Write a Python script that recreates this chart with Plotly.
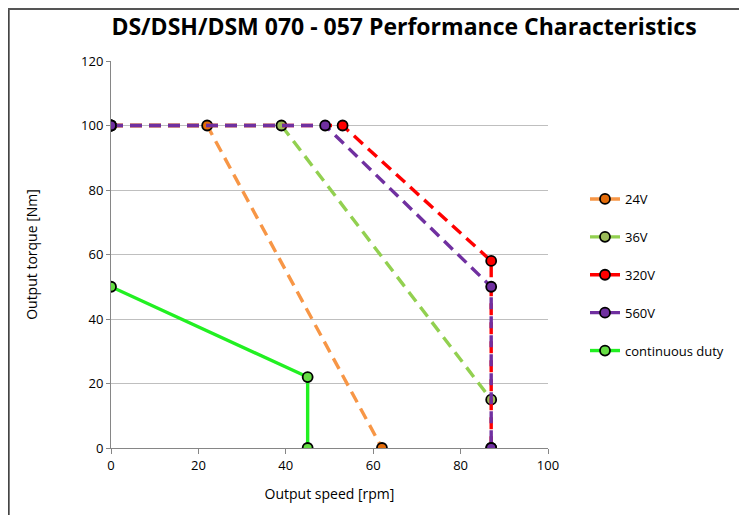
import plotly.graph_objects as go

title = "DS/DSH/DSM 070 - 057 Performance Characteristics"

names = ["24V", "36V", "320V", "560V", "continuous duty"]
speed_24 = [0, 22, 62]
torque_24 = [100, 100, 0]
speed_36 = [0, 39, 87]
torque_36 = [100, 100, 15]
speed_320 = [0, 53, 87, 87]
torque_320 = [100, 100, 58, 0]
speed_560 = [0, 49, 87, 87]
torque_560 = [100, 100, 50, 0]
speed_cont = [0, 45, 45]
torque_cont = [50, 22, 0]

xs = [speed_24, speed_36, speed_320, speed_560, speed_cont]
ys = [torque_24, torque_36, torque_320, torque_560, torque_cont]
line_colors = ["#F79646", "#92D050", "#FF0000", "#7030A0", "#22F022"]
fill_colors = ["#E46C0A", "#9BBB59", "#FF0000", "#7030A0", "#66DD44"]
dashes = ["12px,7px", "12px,7px", "12px,7px", "12px,7px", "solid"]

fig = go.Figure()
for i in range(5):
    fig.add_trace(go.Scatter(
        x=xs[i], y=ys[i], name=names[i], mode="lines+markers",
        legendgroup=names[i],
        line=dict(color=line_colors[i], width=3.4, dash=dashes[i]),
        marker=dict(size=10, color=fill_colors[i], line=dict(color="black", width=1.8)),
    ))

# page body has an 8px margin, so the figure is placed 8px right/down
W, H = 739, 507
L, R, T, B = 103, 199, 53, 67
pw, ph = W - L - R, H - T - B

fig.update_layout(
    width=W, height=H,
    margin=dict(l=L, r=R, t=T, b=B),
    paper_bgcolor="white", plot_bgcolor="white",
    font=dict(family="Open Sans, Liberation Sans, sans-serif", size=13, color="black"),
    title=dict(text="<b>" + title + "</b>", x=(404 - 8) / W, xanchor="center",
               y=1 - (27 - 8) / H, yanchor="middle",
               font=dict(size=23, color="black", family="Open Sans, sans-serif")),
    showlegend=True,
    legend=dict(x=(585 - 111) / pw, y=(448 - 184) / ph, xanchor="left", yanchor="top",
                tracegroupgap=18, font=dict(size=13), bgcolor="rgba(0,0,0,0)"),
    xaxis=dict(range=[0, 100], dtick=20, showgrid=False, showline=True, linecolor="#868686",
               linewidth=1, ticks="outside", tickcolor="#868686", ticklen=5,
               zeroline=False, title=dict(text="Output speed [rpm]", font=dict(size=14), standoff=16)),
    yaxis=dict(range=[0, 120], dtick=20, showgrid=True, gridcolor="#BFBFBF", gridwidth=1,
               showline=True, linecolor="#868686", linewidth=1, ticks="outside",
               tickcolor="#868686", ticklen=4, zeroline=False,
               title=dict(text="Output torque [Nm]", font=dict(size=14), standoff=40)),
    shapes=[
        dict(type="line", xref="paper", yref="paper", x0=-L / pw + 0.001, x1=-L / pw + 0.001,
             y0=-B / ph, y1=1 + T / ph, line=dict(color="#444444", width=2.5)),
        dict(type="line", xref="paper", yref="paper", x0=-L / pw, x1=1 + R / pw,
             y0=1 + T / ph - 0.002, y1=1 + T / ph - 0.002, line=dict(color="#555555", width=2.5)),
    ],
)

fig.write_html("out.html")
